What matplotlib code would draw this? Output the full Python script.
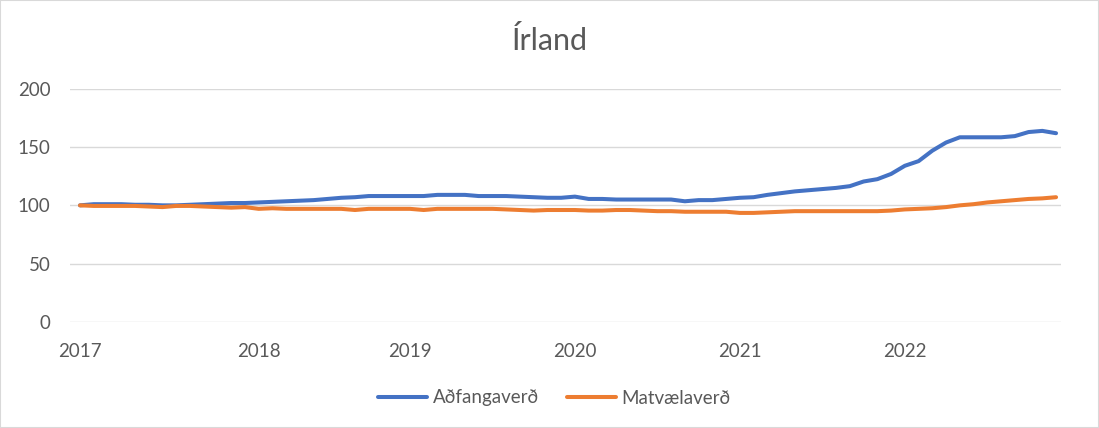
import matplotlib
matplotlib.use("Agg")
import matplotlib.pyplot as plt
from matplotlib.patches import Rectangle
import numpy as np

title = "Írland"
series_names = ["Aðfangaverð", "Matvælaverð"]
year_labels = ["2017", "2018", "2019", "2020", "2021", "2022"]
year_label_pos = [0, 13, 24, 36, 48, 60]

adfangaverd = [100, 101, 101, 101, 100.5, 100.5, 100, 100, 100.5, 101, 101.5, 102,
               102, 102.5, 103, 103.5, 104, 104.5, 105.5, 106.5, 107, 108, 108, 108,
               108, 108, 109, 109, 109, 108, 108, 108, 107.5, 107, 106.5, 106.5,
               107.5, 105.5, 105.5, 105, 105, 105, 105, 105, 103.5, 104.5, 104.5, 105.5,
               106.5, 107, 109, 110.5, 112, 113, 114, 115, 116.5, 120.5, 122.5, 127,
               134, 138, 147, 154, 158.5, 158.5, 158.5, 158.5, 159.5, 163, 164, 162]

matvaelaverd = [100, 99.5, 99.5, 99.5, 99.5, 99, 98.5, 99.5, 99.5, 99, 98.5, 98,
                98.5, 97, 97.5, 97, 97, 97, 97, 97, 96, 97, 97, 97,
                97, 96, 97, 97, 97, 97, 97, 96.5, 96, 95.5, 96, 96,
                96, 95.5, 95.5, 96, 96, 95.5, 95, 95, 94.5, 94.5, 94.5, 94.5,
                93.5, 93.5, 94, 94.5, 95, 95, 95, 95, 95, 95, 95, 95.5,
                96.5, 97, 97.5, 98.5, 100, 101, 102.5, 103.5, 104.5, 105.5, 106, 107]

plt.rcParams['font.family'] = ['Lato', 'DejaVu Sans']
text_color = "#595959"
grid_color = "#D9D9D9"

fig = plt.figure(figsize=(10.99, 4.28), dpi=100)
ax = fig.add_axes([70/1099, 1-321.7/428, (1061-70)/1099, (321.7-89)/428])

x = np.arange(len(adfangaverd))
ax.plot(x, adfangaverd, color="#4472C4", lw=2.9, solid_capstyle='round', label=series_names[0], zorder=3)
ax.plot(x, matvaelaverd, color="#ED7D31", lw=2.9, solid_capstyle='round', label=series_names[1], zorder=3)

ax.set_xlim(-0.727, 71.36)
ax.set_ylim(0, 200)
ax.set_yticks([0, 50, 100, 150, 200])
ax.yaxis.grid(True, color=grid_color, lw=1.0)
ax.set_axisbelow(True)
ax.set_xticks(year_label_pos)
ax.set_xticklabels(year_labels)
for s in ax.spines.values():
    s.set_visible(False)
ax.tick_params(axis='both', length=0, labelsize=13.5, colors=text_color)
ax.tick_params(axis='y', pad=14)
ax.tick_params(axis='x', pad=15)

fig.text(0.5, 1-40/428, title, ha='center', va='center', fontsize=22, color=text_color)

fig.legend(loc='center', bbox_to_anchor=(0.5046, 1-398/428), ncol=2, frameon=False,
           fontsize=13.5, labelcolor=text_color, handlelength=2.6, columnspacing=1.5,
           handletextpad=0.3)

fig.patches.append(Rectangle((0, 0), 1, 1, transform=fig.transFigure, fill=False,
                             edgecolor=grid_color, lw=1.5))

fig.savefig("out.png", dpi=100)
